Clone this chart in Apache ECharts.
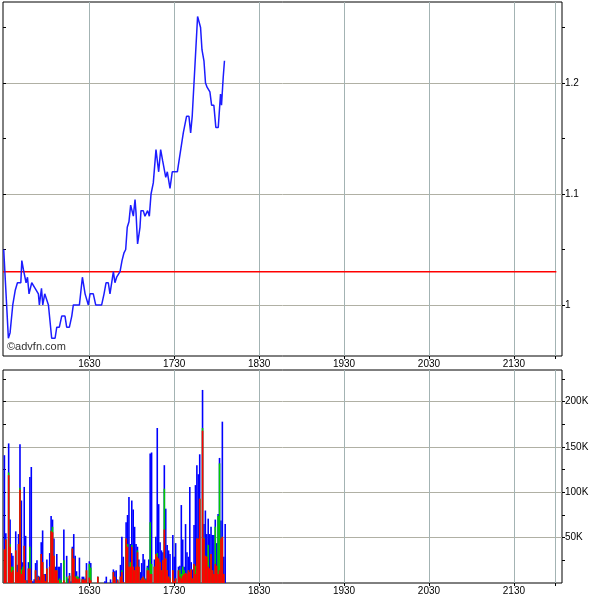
<!DOCTYPE html>
<html><head><meta charset="utf-8">
<script src="https://cdn.jsdelivr.net/npm/echarts@6/dist/echarts.min.js"></script>
<style>html,body{margin:0;padding:0;background:#fff}#c{width:600px;height:600px}</style>
</head><body><div id="c"></div>
<script>
// ---- data ----
// trade times in minutes after midnight (990 = 16:30)
const priceTimes = [929.5,932.8,934.0,935.9,937.6,939.2,941.6,942.3,943.4,945.3,946.3,947.4,949.3,951.7,954.0,954.7,956.2,957.1,958.5,959.9,961.1,962.3,963.4,965.8,967.0,968.8,970.5,972.8,974.0,975.9,977.6,978.7,983.0,985.1,987.0,988.1,989.3,990.5,992.8,994.5,998.7,1000.4,1001.8,1003.4,1004.6,1007.0,1008.1,1009.3,1010.5,1011.7,1013.1,1014.5,1015.7,1016.8,1018.0,1019.2,1020.6,1021.1,1022.3,1023.0,1024.1,1025.8,1026.5,1028.1,1029.3,1030.5,1031.2,1032.4,1033.6,1035.2,1037.1,1039.0,1040.4,1041.8,1044.0,1045.1,1047.0,1048.6,1049.8,1052.2,1053.4,1054.5,1056.4,1057.1,1058.7,1060.4,1061.6,1062.7,1063.9,1066.5,1067.4,1068.6,1069.6,1071.0,1072.1,1073.3,1075.2,1076.4,1078.0,1079.4,1081.1,1082.7,1083.4,1084.6,1085.5];
const prices = [1.05,0.97,0.975,1.0,1.013,1.02,1.02,1.04,1.032,1.02,1.025,1.01,1.02,1.015,1.01,1.0,1.015,1.0,1.01,1.01,1.0,1.0,0.97,0.97,0.98,0.98,0.99,0.99,0.98,0.98,0.99,1.0,1.0,1.025,1.01,1.01,1.0,1.01,1.01,1.0,1.0,1.01,1.02,1.02,1.01,1.03,1.02,1.025,1.025,1.03,1.04,1.047,1.05,1.07,1.075,1.09,1.09,1.08,1.095,1.083,1.055,1.07,1.085,1.085,1.08,1.08,1.085,1.08,1.1,1.11,1.14,1.12,1.14,1.13,1.115,1.12,1.105,1.12,1.12,1.12,1.13,1.13,1.155,1.155,1.17,1.17,1.155,1.17,1.17,1.26,1.26,1.25,1.23,1.22,1.2,1.196,1.192,1.18,1.18,1.16,1.16,1.19,1.18,1.205,1.22];
const prevClose = 1.03;
const sessionStart = 929;   // 15:29
const sessionEnd = 1319;    // 21:59
const axisEnd = 1324;
const xTickLabels = ['1630','1730','1830','1930','2030','2130'];
const priceTicks = [1, 1.1, 1.2];
const priceMinorTicks = [1.05, 1.15, 1.25];
const volTicks = [50, 100, 150, 200];          // thousands
const volMinorTicks = [25, 75, 125, 175, 225];
// volume per minute (thousands of shares): red / green / blue parts
const volTimes = [930,931,933,934,935,936,938,939,940,941,942,943,944,945,946,947,948,949,950,951,952,953,954,955,956,957,958,959,960,962,963,964,965,966,967,968,969,970,972,974,975,976,977,978,979,980,981,982,983,985,986,987,988,990,991,996,1001,1002,1005,1007,1008,1009,1010,1012,1013,1014,1016,1017,1018,1019,1020,1021,1022,1023,1024,1025,1026,1027,1028,1029,1030,1031,1032,1033,1034,1036,1037,1038,1039,1040,1041,1042,1043,1044,1045,1046,1047,1049,1050,1051,1053,1054,1055,1056,1057,1058,1059,1060,1061,1062,1063,1064,1065,1066,1067,1068,1070,1071,1072,1073,1074,1075,1076,1077,1078,1079,1080,1081,1082,1083,1084,1085,1086];
const volRed =   [37,48,119,40,12,14,36,12,43,103,10,14,41,3,0,16,16,3,0,0,14,3,7,3,32,23,9,2,16,18,57,56,30,14,14,3,0,0,3,0,0,8,0,38,27,7,5,4,5,4,4,3,14,6,3,7,0,0,0,12,7,0,3,7,12,1,49,40,18,18,40,18,14,18,34,18,3,5,7,4,3,14,14,10,10,18,32,29,27,23,14,25,59,27,14,7,5,14,2,5,14,7,5,8,10,11,10,14,12,15,5,21,10,49,49,93,168,49,30,29,18,16,32,14,10,21,19,10,14,49,51,10,0];
const volGreen = [0,0,3,3,6,4,0,0,0,2,5,4,0,0,0,0,24,0,0,0,0,0,0,0,0,0,0,0,0,0,1,6,0,0,0,0,5,3,22,7,0,0,0,0,0,0,3,3,0,0,0,0,0,15,14,0,0,0,0,0,0,0,0,0,2,0,0,3,0,5,2,0,0,0,2,0,0,0,0,1,0,3,0,57,11,0,0,4,0,0,0,0,45,0,0,0,1,0,0,0,0,8,5,10,4,0,0,0,0,0,0,0,9,0,0,0,3,1,0,0,24,0,0,0,0,41,0,64,118,0,0,0,0];
const volBlue =  [104,7,32,27,15,12,21,8,11,48,76,5,65,49,3,7,77,125,2,4,8,22,1,4,13,35,1,8,10,15,16,8,19,4,18,15,13,19,34,23,5,3,2,2,27,23,5,0,23,3,3,2,8,3,5,0,2,7,4,3,6,14,1,13,37,28,18,32,77,20,49,63,48,25,4,8,9,17,25,21,2,2,12,76,123,8,19,138,60,22,22,9,26,55,28,29,26,39,27,39,4,4,76,30,4,54,24,15,94,8,10,43,89,81,71,49,42,15,50,25,29,38,30,39,43,8,25,2,6,20,127,19,65];

// ---- helpers ----
const toMin = s => parseInt(s.slice(0, s.length - 2), 10) * 60 + parseInt(s.slice(-2), 10);
const xTicks = xTickLabels.map(toMin);
const fmtTime = v => { const h = Math.floor(v / 60), m = Math.round(v % 60); return String(h) + (m < 10 ? '0' : '') + m; };
const FONT = 'Liberation Sans, Arial, sans-serif';
const vGrid = '#a3b3b3', hGrid = '#b0b0a4';

// stacked tops (red at bottom, green on it, blue on top)
const topRed = volRed.slice();
const topGreen = volRed.map((r, i) => r + volGreen[i]);
const topBlue = volRed.map((r, i) => r + volGreen[i] + volBlue[i]);

function xAx(gi) {
  return {
    type: 'value', gridIndex: gi, min: sessionStart, max: axisEnd,
    axisLine: { show: false },
    axisTick: { show: true, length: 3, customValues: xTicks.concat([sessionEnd]), lineStyle: { color: '#000' } },
    axisLabel: { customValues: xTicks, formatter: fmtTime, fontSize: 10, fontFamily: FONT, color: '#000', margin: 3 },
    splitLine: { show: true, lineStyle: { color: vGrid, width: 1 } }
  };
}
function yMajor(gi, mn, mx, ticks, fmt) {
  return {
    type: 'value', gridIndex: gi, min: mn, max: mx, position: 'right',
    axisLine: { show: false },
    axisTick: { show: true, length: 3, customValues: ticks, lineStyle: { color: '#000' } },
    axisLabel: { customValues: ticks, formatter: fmt, fontSize: 10, fontFamily: FONT, color: '#000', margin: 3 },
    splitLine: { show: true, lineStyle: { color: hGrid, width: 1 } }
  };
}
function yMinor(gi, mn, mx, ticks, pos, inside) {
  return {
    type: 'value', gridIndex: gi, min: mn, max: mx, position: pos,
    axisLine: { show: false },
    axisTick: { show: true, inside: inside, length: 3, customValues: ticks, lineStyle: { color: '#000' } },
    axisLabel: { show: false }, splitLine: { show: false }
  };
}
function volSeries(name, color, vals) {
  return {
    type: 'bar', name: name, xAxisIndex: 1, yAxisIndex: 3, barWidth: 1.6, barGap: '-100%',
    color: color, itemStyle: { color: color }, data: volTimes.map((t, i) => [t, vals[i]])
  };
}

const chart = echarts.init(document.getElementById('c'), null, { renderer: 'canvas' });
chart.setOption({
  animation: false,
  backgroundColor: '#fff',
  grid: [
    { left: 3, top: 2, width: 559, height: 354, show: true, borderColor: '#000', borderWidth: 1, backgroundColor: 'transparent' },
    { left: 3, top: 370, width: 559, height: 213, show: true, borderColor: '#000', borderWidth: 1, backgroundColor: 'transparent' }
  ],
  xAxis: [xAx(0), xAx(1)],
  yAxis: [
    yMajor(0, 0.954, 1.273, priceTicks, v => String(Math.round(v * 100) / 100)),
    yMinor(0, 0.954, 1.273, priceMinorTicks, 'right', false),
    yMinor(0, 0.954, 1.273, priceTicks.concat(priceMinorTicks), 'left', true),
    yMajor(1, 0, 235, volTicks, v => v + 'K'),
    yMinor(1, 0, 235, volMinorTicks, 'right', false),
    yMinor(1, 0, 235, volMinorTicks.concat(volTicks), 'left', true)
  ],
  graphic: [{ type: 'text', left: 7, top: 341, style: { text: '\u00A9advfn.com', fontSize: 11, fontFamily: FONT, fill: '#333' } }],
  series: [
    {
      type: 'line', name: 'prevClose', xAxisIndex: 0, yAxisIndex: 0, showSymbol: false, symbol: 'none',
      color: '#ff0000', itemStyle: { color: '#ff0000' },
      lineStyle: { color: '#ff0000', width: 1.5, opacity: 1 },
      emphasis: { disabled: true },
      data: [[sessionStart, prevClose], [sessionEnd + 1, prevClose]], z: 2
    },
    {
      type: 'line', name: 'price', xAxisIndex: 0, yAxisIndex: 0, showSymbol: false, symbol: 'none',
      color: '#1c1cff', lineStyle: { color: '#1c1cff', width: 1.5 },
      emphasis: { disabled: true },
      data: priceTimes.map((t, i) => [t, prices[i]]), z: 3
    },
    volSeries('blue', '#0000ff', topBlue),
    volSeries('green', '#00cc00', topGreen),
    volSeries('red', '#ff0000', topRed)
  ]
});
</script></body></html>
